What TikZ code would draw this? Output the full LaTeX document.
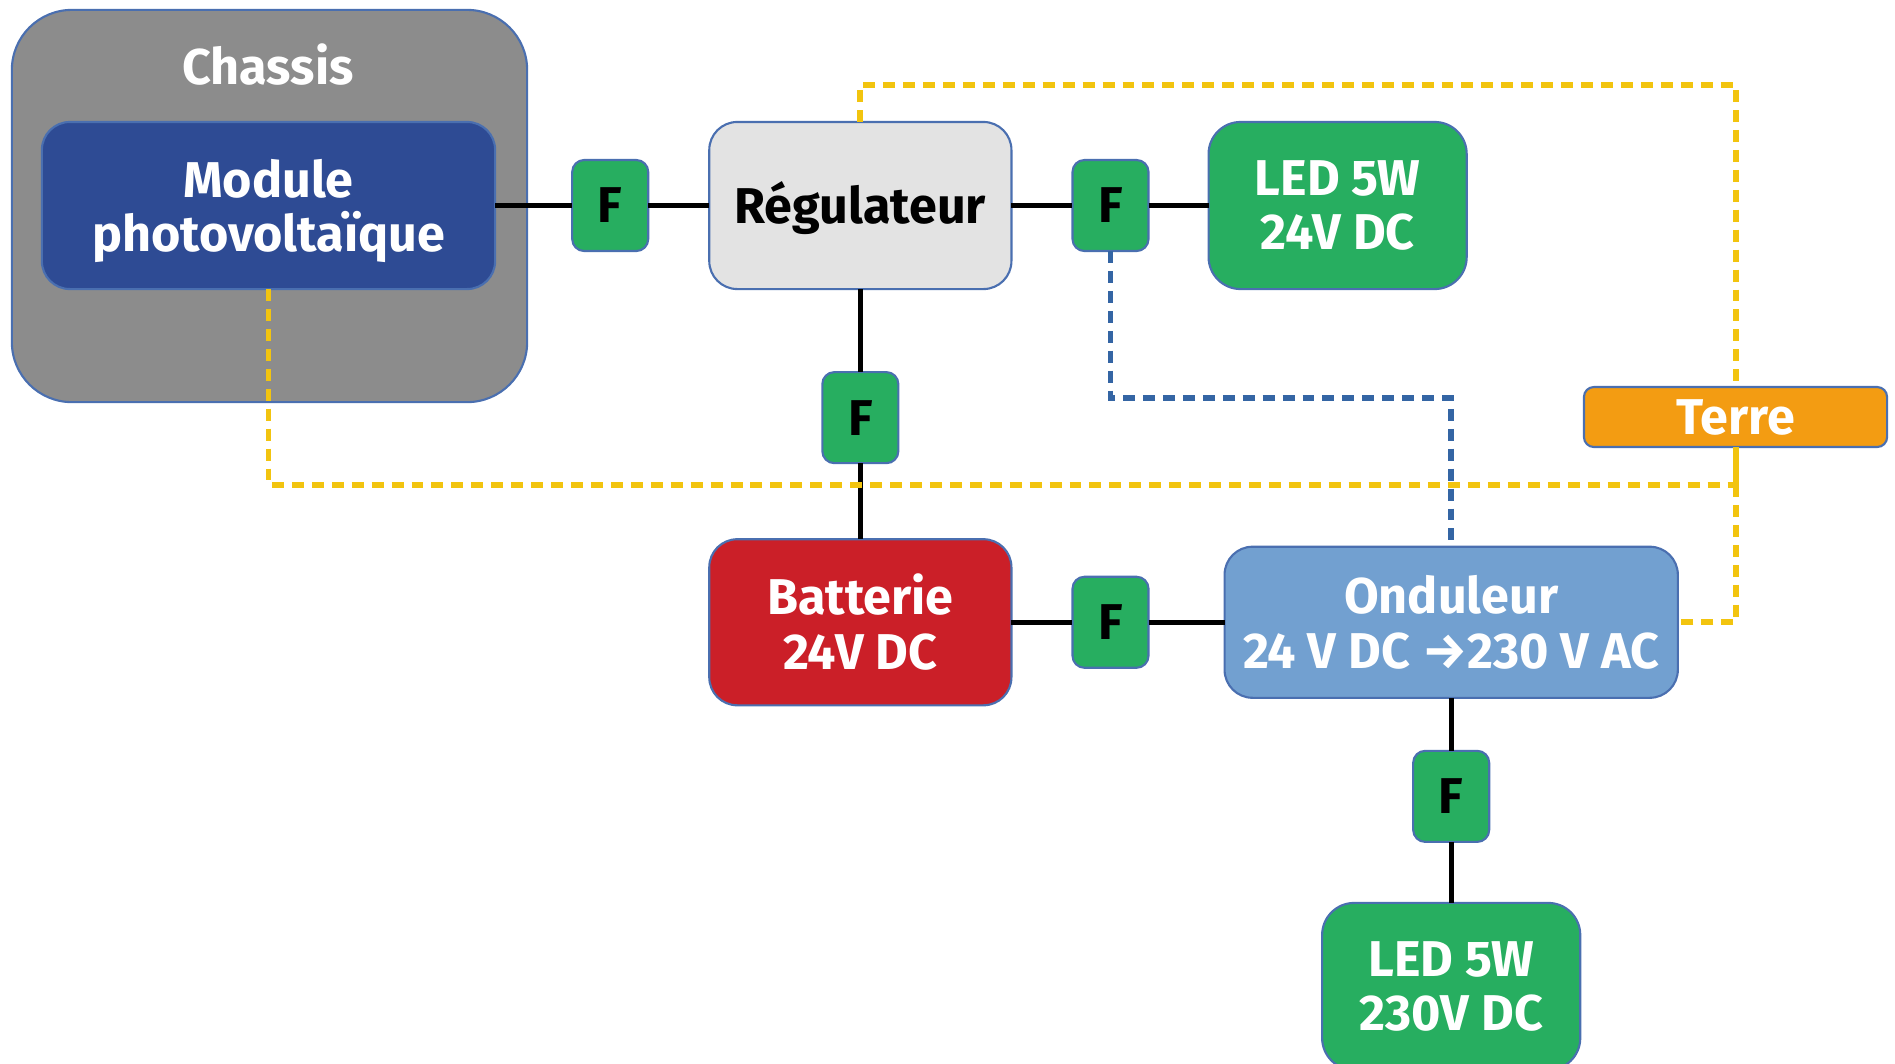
\documentclass[tikz,border=0pt]{standalone}
\usepackage{fontspec}
\setmainfont{Fira Sans}
\usetikzlibrary{positioning}
\definecolor{chassisgray}{HTML}{8C8C8C}
\definecolor{modblue}{HTML}{2E4B94}
\definecolor{reggray}{HTML}{E3E3E3}
\definecolor{ledgreen}{HTML}{27AE60}
\definecolor{battred}{HTML}{CB1F28}
\definecolor{ondblue}{HTML}{72A0D0}
\definecolor{terreorange}{HTML}{F39C12}
\definecolor{earthyellow}{HTML}{F2C40F}
\definecolor{neutralblue}{HTML}{3465A4}
\definecolor{edgeblue}{HTML}{4A6FB0}
\begin{document}
\begin{tikzpicture}[
  x=0.01cm,y=-0.01cm,
  font=\fontsize{14.3}{15.5}\selectfont\bfseries,
  box/.style={draw=edgeblue,line width=0.6pt,rounded corners=0.28cm,align=center,inner sep=2pt,outer sep=0pt,text=white},
  fuse/.style={box,fill=ledgreen,text=black,rounded corners=0.12cm,minimum width=0.76cm,minimum height=0.91cm},
  led/.style={box,fill=ledgreen,rounded corners=0.32cm,minimum width=2.58cm,minimum height=1.67cm},
  wire/.style={line width=1.5pt},
  earth/.style={draw=earthyellow,line width=1.7pt,dash pattern=on 3.4pt off 2.27pt},
  neutral/.style={draw=neutralblue,line width=1.7pt,dash pattern=on 3.4pt off 2.27pt},
  node distance=6mm
]
\useasboundingbox (0,0) rectangle (1895,1063);
\node[box,fill=chassisgray,rounded corners=0.6cm,minimum width=5.15cm,minimum height=3.92cm] (chassis) at (269.5,206) {};
\node[text=white] (chassislbl) at (268,65) {Chassis};
\node[box,fill=modblue,text depth=0pt,minimum width=4.53cm,minimum height=1.67cm] (module) at (268.5,205.5) {Module\\photovoltaïque};
\node[fuse,right=0.77cm of module] (f1) {F};
\node[box,fill=reggray,text=black,text depth=1.5pt,minimum width=3.02cm,minimum height=1.67cm,right=0.61cm of f1] (reg) {Régulateur};
\node[fuse,right=0.61cm of reg] (f2) {F};
\node[led,right=0.60cm of f2] (led1) {LED 5W\\24V DC};
\node[fuse,below=0.83cm of reg] (f3) {F};
\node[box,fill=battred,minimum width=3.02cm,minimum height=1.66cm,below=0.76cm of f3] (batt) {Batterie\\24V DC};
\node[fuse,right=0.61cm of batt] (f4) {F};
\node[box,fill=ondblue,minimum width=4.53cm,minimum height=1.51cm,right=0.76cm of f4] (ond) {Onduleur\\24 V DC →230 V AC};
\node[fuse,below=0.53cm of ond] (f5) {F};
\node[led,below=0.61cm of f5] (led2) {LED 5W\\230V DC};
\node[box,fill=terreorange,rounded corners=0.1cm,minimum width=3.03cm,minimum height=0.60cm] (terre) at (1735.5,417) {Terre};
\draw[wire] (module) -- (f1) -- (reg) -- (f2) -- (led1);
\draw[wire] (reg) -- (f3) -- (batt);
\draw[wire] (batt) -- (f4) -- (ond);
\draw[wire] (ond) -- (f5) -- (led2);
\coordinate (neutraltop) at (ond.north |- 0,398);
\draw[neutral] (f2.south) |- (neutraltop) -- (ond.north);
\coordinate (earthtop) at (terre.north |- 0,85);
\coordinate (earthjoin) at (terre.south |- 0,485);
\draw[earth] (reg.north) |- (earthtop) -- (terre.north);
\draw[earth] (module.south) |- (earthjoin);
\draw[earthyellow,line width=1.7pt] (terre.south) -- (earthjoin);
\draw[earth] (earthjoin) |- (ond.east);
\end{tikzpicture}
\end{document}
